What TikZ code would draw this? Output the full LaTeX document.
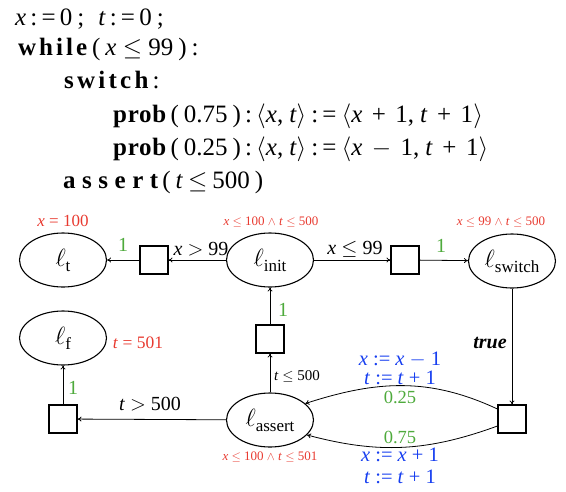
\documentclass[tikz,border=0pt]{standalone}
\usepackage{fontspec}
\setmainfont{Liberation Serif}
\usetikzlibrary{shapes.geometric,arrows.meta}
\definecolor{cred}{RGB}{232,58,48}
\definecolor{cgreen}{RGB}{78,170,60}
\definecolor{cblue}{RGB}{22,62,240}
\newcommand\kw[2]{{\addfontfeatures{LetterSpace=#1}\bfseries #2}}
\newcommand\ix{\textit{x}}
\newcommand\itt{\textit{t}}
\newcommand\gapa{\hspace{5pt}}
\newcommand\gapb{\hspace{9.5pt}}
\newcommand\gapc{\hspace{6pt}}
\newcommand\lname[1]{$\ell$\raisebox{-5pt}{\fontsize{17}{17}\selectfont #1}}
\begin{document}
\begin{tikzpicture}[x=1pt,y=-1pt,
  loc/.style={ellipse,draw,line width=1.1pt,minimum width=87pt,minimum height=54pt,inner sep=0pt,font=\fontsize{24}{26}\selectfont},
  box/.style={rectangle,draw,line width=1.1pt,minimum size=28pt,inner sep=0pt},
  arr/.style={-{To[length=4pt,width=5pt]},line width=0.8pt},
  code/.style={anchor=base west,inner sep=0pt,font=\fontsize{25}{28}\selectfont},
  lab/.style={inner sep=0pt,font=\fontsize{20}{22}\selectfont},
  inv/.style={inner sep=0pt,text=cred,font=\fontsize{13}{15}\selectfont},
  prb/.style={inner sep=0pt,text=cgreen,font=\fontsize{20}{22}\selectfont},
  upd/.style={inner sep=0pt,text=cblue,font=\fontsize{20.5}{22}\selectfont}]
\useasboundingbox (0,0) rectangle (566,491);
% code
\node[code] (c1) at (15,25) {\ix\,:\,=\,0\gapa;\hspace{14pt}\itt\,:\,=\,0\gapa;};
\node[code] (c2) at (18,55) {\kw{12}{while}\gapa(\gapa\ix\ $\le$\ 99\gapa)\gapa:};
\node[code] (c3) at (64,88) {\kw{13}{switch}\,:};
\node[code] (c4) at (113,122) {\kw{3}{prob}\,(\gapa0.75\gapa)\,:\,$\langle$\ix,\gapc\itt$\rangle$\gapa:\,=\gapa$\langle$\ix\gapb+\gapb1,\gapc\itt\gapb+\gapb1$\rangle$};
\node[code] (c5) at (113,155) {\kw{3}{prob}\,(\gapa0.25\gapa)\,:\,$\langle$\ix,\gapc\itt$\rangle$\gapa:\,=\gapa$\langle$\ix\gapb$-$\gapb1,\gapc\itt\gapb+\gapb1$\rangle$};
\node[code] (c6) at (63,188) {\kw{26}{assert}\,(\gapa\itt\gapa$\le$\gapa500\gapa)};
% locations
\node[loc] (lt) at (63,260) {\lname{t}};
\node[loc] (linit) at (270,260) {\lname{init}};
\node[loc] (lsw) at (512,261) {\lname{switch}};
\node[loc] (lf) at (63,338) {\lname{f}};
\node[loc] (las) at (270,420) {\lname{assert}};
% boxes
\node[box] (b1) at (154,260) {};
\node[box] (b2) at (405,260) {};
\node[box] (b3) at (512,419) {};
\node[box] (b4) at (270,339) {};
\node[box] (b5) at (63,419) {};
% edges
\draw[arr] (linit) -- (b1);
\draw[arr] (b1) -- (lt);
\draw[arr] (linit) -- (b2);
\draw[arr] (b2) -- (lsw);
\draw[arr] (lsw) -- (b3);
\draw[arr] ([yshift=10pt]b3.west) to[out=155,in=18] (las.25);
\draw[arr] ([yshift=-7pt]b3.west) to[out=200,in=-15] (las.-22);
\draw[arr] (las) -- (b4);
\draw[arr] (b4) -- (linit);
\draw[arr] (las) -- (b5);
\draw[arr] (b5) -- (lf);
% labels
\node[inv,font=\fontsize{17}{19}\selectfont] (it) at (63,221) {\ix\ = 100};
\node[inv] (iinit) at (271,222) {\ix\ $\le$ 100 $\wedge$ \itt\ $\le$ 500};
\node[inv] (isw) at (501,222) {\ix\ $\le$ 99 $\wedge$ \itt\ $\le$ 500};
\node[inv,font=\fontsize{17.5}{19}\selectfont] (if) at (138,343) {\itt\ = 501};
\node[inv] (ias) at (270,457) {\ix\ $\le$ 100 $\wedge$ \itt\ $\le$ 501};
\node[prb] (p1) at (123,245) {1};
\node[prb] (p2) at (441,246) {1};
\node[prb] (p3) at (283,310) {1};
\node[prb] (p4) at (73,388) {1};
\node[prb,font=\fontsize{18.5}{20}\selectfont] (p5) at (400,397) {0.25};
\node[prb,font=\fontsize{18.5}{20}\selectfont] (p6) at (400,437) {0.75};
\node[lab] (g1) at (201,249) {\ix\ $>$ 99};
\node[lab] (g2) at (355,249) {\ix\ $\le$ 99};
\node[lab] (g3) at (150,404) {\itt\ $>$ 500};
\node[lab,font=\fontsize{15}{17}\selectfont] (g4) at (297,376) {\itt\ $\le$ 500};
\node[lab,font=\fontsize{20}{22}\selectfont\bfseries\itshape] (g5) at (490,343) {true};
\node[upd] (u1) at (400,360) {\ix\ := \ix\ $-$ 1};
\node[upd] (u2) at (400,378) {\itt\ := \itt\ + 1};
\node[upd] (u3) at (400,455) {\ix\ := \ix\ + 1};
\node[upd] (u4) at (400,477) {\itt\ := \itt\ + 1};
\end{tikzpicture}
\end{document}
